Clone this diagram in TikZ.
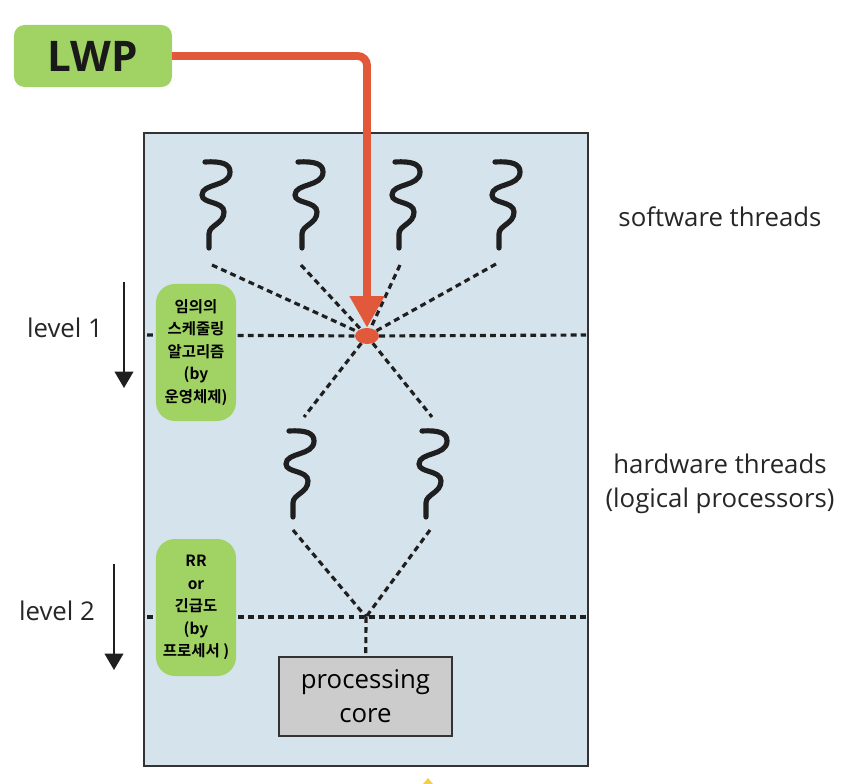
\documentclass[tikz,border=0pt]{standalone}
\usepackage{fontspec}
\setmainfont{Open Sans}
\newfontfamily\krfont{Noto Sans CJK KR}[BoldFont={Noto Sans CJK KR Bold}]
\usetikzlibrary{arrows.meta, shapes.geometric}

\tikzset{
	dotline/.style={draw=black!88, line width=2.7pt, dash pattern=on 5pt off 3.6pt},
	levelarrow/.style={draw=black!88, line width=1.4pt, -{Triangle[length=14pt, width=16pt]}},
	greenbox/.style={fill=lwpgreen, rounded corners=16pt, inner sep=0pt, align=center, minimum width=2.4cm},
	sidelabel/.style={text=black!85, font=\fontsize{22}{29}\selectfont, align=center},
	threadcurve/.pic={
		\draw[black!88, line width=4.4pt, line cap=round] (0, 0) -- (0, -14)
			.. controls (0, -23) and (15, -24) .. (15, -36)
			.. controls (15, -47) and (-7, -44) .. (-7, -53)
			.. controls (-7, -65) and (21, -61) .. (21, -76)
			.. controls (21, -84) and (13, -87) .. (-4, -86);
	}
}
\definecolor{lwpgreen}{HTML}{A0D264}
\definecolor{framefill}{HTML}{D5E3ED}
\definecolor{arrowred}{HTML}{E2583A}
\definecolor{coregray}{HTML}{CCCCCC}
\definecolor{tipyellow}{HTML}{F2CF4A}

\begin{document}
\begin{tikzpicture}[x=0.03cm, y=-0.03cm]
	\useasboundingbox (0, 0) rectangle (858, 784);

	\node[draw=black!80, fill=framefill, line width=1.5pt, minimum width=13.32cm, minimum height=18.99cm, inner sep=0pt] (frame) at (366, 449.5) {};

	% threads
	\foreach \i/\x in {1/209, 2/302, 3/399, 4/499} {
		\pic at (\x, 248) {threadcurve};
	}
	\foreach \i/\x in {1/293, 2/426} {
		\pic at (\x, 517) {threadcurve};
	}
	\coordinate (soft1) at (212, 265);
	\coordinate (soft2) at (301, 265);
	\coordinate (soft3) at (400, 265);
	\coordinate (soft4) at (496, 264);
	\coordinate (hardin1) at (304, 417);
	\coordinate (hardin2) at (432, 417);
	\coordinate (hardout1) at (293, 530);
	\coordinate (hardout2) at (430, 530);
	\coordinate (joint) at (366, 617);
	\foreach \n/\y in {one/335, two/617} {
		\coordinate (\n left) at (147, \y);
		\coordinate (\n right) at (586, \y);
	}

	\node[ellipse, fill=arrowred, minimum width=0.72cm, minimum height=0.48cm, inner sep=0pt] (sched) at (367, 336) {};
	\node[draw=black!80, fill=coregray, line width=1.3pt, minimum width=5.19cm, minimum height=2.37cm, inner sep=0pt, align=center, font=\fontsize{22}{29}\selectfont] (core) at (365.5, 696.5) {processing\\core};

	% dotted lines
	\foreach \i in {1, ..., 4} \draw[dotline] (soft\i) -- (sched);
	\foreach \i in {1, 2} \draw[dotline] (sched) -- (hardin\i);
	\foreach \i in {1, 2} \draw[dotline] (hardout\i) -- (joint);
	\draw[dotline] (oneleft) -- (sched);
	\draw[dotline] (sched) -- (oneright);
	\draw[dotline] (twoleft) -- (tworight);
	\draw[dotline] (joint) -- (core);

	\node[greenbox, minimum height=4.11cm, font=\krfont\bfseries\fontsize{13.2}{19.2}\selectfont] (rulebox1) at (196, 352.5) {임의의\\스케줄링\\알고리즘\\(by\\운영체제)};
	\node[greenbox, minimum height=4.11cm, font=\krfont\bfseries\fontsize{13.2}{19.2}\selectfont] (rulebox2) at (196, 607.5) {RR\\or\\긴급도\\(by\\프로세서 )};

	\node[fill=lwpgreen, rounded corners=9pt, minimum width=4.74cm, minimum height=1.86cm, inner sep=0pt, font=\bfseries\fontsize{36}{36}\selectfont, text=black!90] (lwp) at (93, 56) {LWP};
	\draw[arrowred, line width=6.8pt, rounded corners=8pt, -{Triangle[length=27pt, width=28pt]}] (lwp.east) -| (sched.north);

	% labels on the sides
	\coordinate (arrowtop1) at (124, 282);
	\coordinate (arrowend1) at (124, 388);
	\coordinate (arrowtop2) at (114, 564);
	\coordinate (arrowend2) at (114, 670);
	\draw[levelarrow] (arrowtop1) -- (arrowend1);
	\draw[levelarrow] (arrowtop2) -- (arrowend2);
	\node[sidelabel] (level1) at (65, 328) {level 1};
	\node[sidelabel] (level2) at (57, 611) {level 2};
	\node[sidelabel] (softlabel) at (720, 217) {software threads};
	\node[sidelabel] (hardlabel) at (720, 484) {hardware threads\\(logical processors)};

	\fill[tipyellow] (423, 784) -- (428, 778) -- (433, 784) -- cycle;
\end{tikzpicture}
\end{document}
